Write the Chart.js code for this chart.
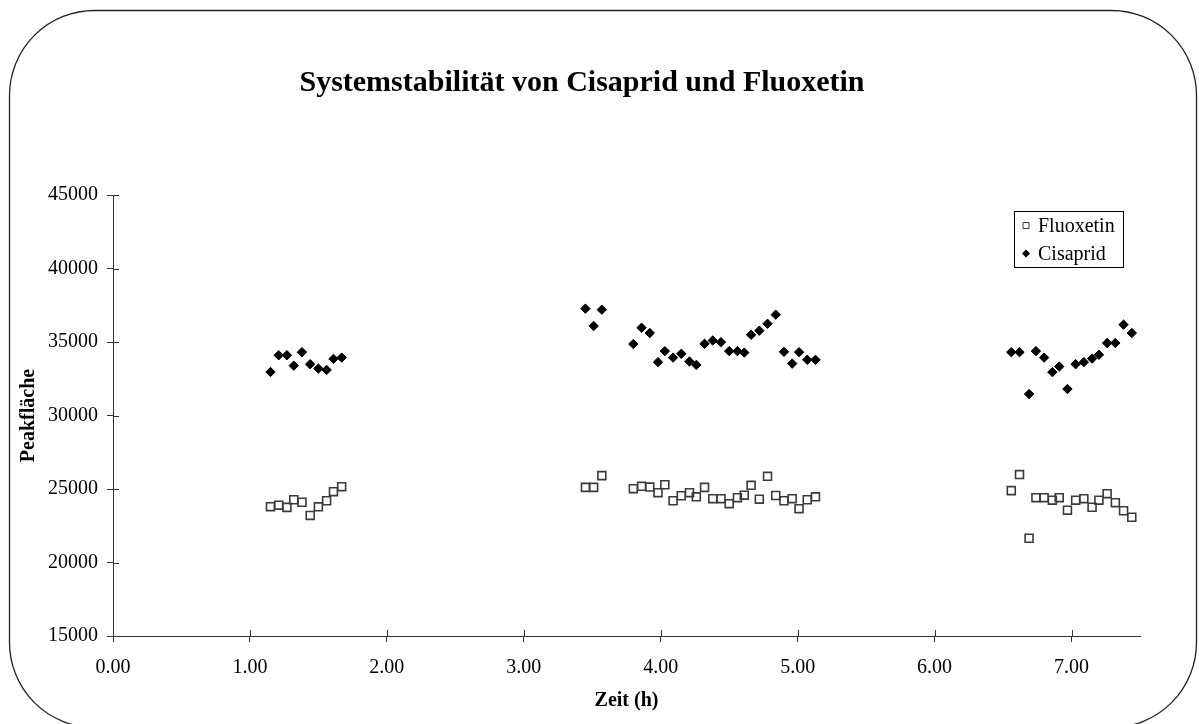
<!DOCTYPE html>
<html lang="de">
<head>
<meta charset="utf-8">
<title>Systemstabilität von Cisaprid und Fluoxetin</title>
<script src="https://cdn.jsdelivr.net/npm/chart.js@4.4.1/dist/chart.umd.min.js"></script>
<style>
  html, body { margin: 0; padding: 0; background: #fff; }
  canvas { display: block; }
</style>
</head>
<body>
<canvas id="chart" width="1199" height="724"></canvas>
<script>
// Injektionszeitpunkte (h)
const zeit = [
  1.15, 1.21, 1.27, 1.32, 1.38, 1.44, 1.50, 1.56, 1.61, 1.67,
  3.45, 3.51, 3.57, 3.80, 3.86, 3.92, 3.98, 4.03, 4.09, 4.15, 4.21, 4.26, 4.32, 4.38,
  4.44, 4.50, 4.56, 4.61, 4.66, 4.72, 4.78, 4.84, 4.90, 4.96, 5.01, 5.07, 5.13,
  6.56, 6.62, 6.69, 6.74, 6.80, 6.86, 6.91, 6.97, 7.03, 7.09, 7.15, 7.20, 7.26, 7.32, 7.38, 7.44
];

// Peakflächen Fluoxetin
const fluoxetin = [
  23800, 23900, 23750, 24270, 24100, 23200, 23790, 24200, 24820, 25160,
  25110, 25110, 25910, 25020, 25180, 25130, 24750, 25290, 24200, 24540, 24750, 24470, 25110, 24340,
  24340, 24000, 24410, 24580, 25250, 24310, 25860, 24560, 24200, 24340, 23660, 24270, 24470,
  24890, 25980, 21650, 24410, 24410, 24240, 24410, 23560, 24240, 24340, 23760, 24240, 24680, 24070, 23520, 23080
];

// Peakflächen Cisaprid
const cisaprid = [
  32960, 34100, 34100, 33390, 34310, 33490, 33190, 33100, 33850, 33940,
  37270, 36090, 37200, 34860, 35970, 35610, 33630, 34380, 33940, 34200, 33670, 33440, 34880, 35100,
  34990, 34380, 34380, 34280, 35490, 35770, 36240, 36860, 34330, 33530, 34310, 33790, 33790,
  34310, 34310, 31460, 34380, 33940, 32950, 33330, 31800, 33490, 33630, 33870, 34130, 34930, 34930, 36180, 35610
];

const serieNamen = ['Fluoxetin', 'Cisaprid'];
const titelText = 'Systemstabilität von Cisaprid und Fluoxetin';
const xTitel = 'Zeit (h)';
const yTitel = 'Peakfläche';

const SERIF = '"Liberation Serif", "Times New Roman", serif';

const punkte = (werte) => zeit.map((t, i) => ({ x: t, y: werte[i] }));

// Rahmen mit runden Ecken, Titel und Legende
const dekoration = {
  id: 'dekoration',
  beforeDraw(chart) {
    const ctx = chart.ctx;
    ctx.save();
    ctx.fillStyle = '#fff';
    ctx.fillRect(0, 0, chart.width, chart.height);
    ctx.beginPath();
    ctx.roundRect(9.5, 10.5, 1187, 717, 85);
    ctx.strokeStyle = '#222';
    ctx.lineWidth = 1.3;
    ctx.stroke();
    ctx.restore();
  },
  afterDraw(chart) {
    const ctx = chart.ctx;
    const { x, y } = chart.scales;
    ctx.save();

    // Achsenstriche auch nach innen
    ctx.strokeStyle = '#333';
    ctx.lineWidth = 1;
    ctx.beginPath();
    x.ticks.forEach(t => {
      const px = Math.round(x.getPixelForValue(t.value)) + 0.5;
      ctx.moveTo(px, y.bottom - 6);
      ctx.lineTo(px, y.bottom);
    });
    y.ticks.forEach(t => {
      const py = Math.round(y.getPixelForValue(t.value)) + 0.5;
      ctx.moveTo(x.left, py);
      ctx.lineTo(x.left + 6, py);
    });
    ctx.stroke();

    // Titel
    ctx.fillStyle = '#000';
    ctx.font = 'bold 30px ' + SERIF;
    ctx.textAlign = 'center';
    ctx.textBaseline = 'middle';
    ctx.fillText(titelText, 582, 83);

    // Legende
    const lx = 1014.5, ly = 211.5, lw = 109, lh = 56;
    ctx.fillStyle = '#fff';
    ctx.fillRect(lx, ly, lw, lh);
    ctx.strokeStyle = '#000';
    ctx.lineWidth = 1;
    ctx.strokeRect(lx, ly, lw, lh);
    ctx.font = '20px ' + SERIF;
    ctx.textAlign = 'left';
    ctx.textBaseline = 'middle';
    chart.data.datasets.forEach((ds, i) => {
      const cy = 225.5 + i * 28;
      const cx = 1026;
      ctx.beginPath();
      if (ds.pointStyle === 'rect') {
        ctx.rect(cx - 3, cy - 3, 6, 6);
        ctx.fillStyle = '#fff';
        ctx.fill();
        ctx.strokeStyle = ds.borderColor;
        ctx.lineWidth = 1;
        ctx.stroke();
      } else {
        ctx.moveTo(cx - 4, cy);
        ctx.lineTo(cx, cy - 4);
        ctx.lineTo(cx + 4, cy);
        ctx.lineTo(cx, cy + 4);
        ctx.closePath();
        ctx.fillStyle = ds.backgroundColor;
        ctx.fill();
      }
      ctx.fillStyle = '#000';
      ctx.fillText(ds.label, 1038, cy + 1);
    });
    ctx.restore();
  }
};

new Chart(document.getElementById('chart'), {
  type: 'scatter',
  data: {
    datasets: [
      {
        label: serieNamen[0],
        data: punkte(fluoxetin),
        pointStyle: 'rect',
        pointRadius: 5.6,
        pointHoverRadius: 5.6,
        borderColor: '#3a3a3a',
        backgroundColor: 'rgba(255,255,255,0)',
        borderWidth: 1.6
      },
      {
        label: serieNamen[1],
        data: punkte(cisaprid),
        pointStyle: 'rectRot',
        pointRadius: 4.7,
        pointHoverRadius: 4.7,
        borderColor: '#000',
        backgroundColor: '#000',
        borderWidth: 1
      }
    ]
  },
  options: {
    responsive: false,
    animation: false,
    devicePixelRatio: 1,
    layout: { padding: { left: 0, right: 59, top: 195, bottom: 0 } },
    plugins: {
      legend: { display: false },
      title: { display: false },
      tooltip: { enabled: false }
    },
    scales: {
      x: {
        type: 'linear',
        position: 'bottom',
        min: 0,
        max: 7.5,
        afterFit(s) { s.height = 88; },
        ticks: {
          stepSize: 1,
          includeBounds: false,
          autoSkip: false,
          maxRotation: 0,
          padding: 14,
          color: '#000',
          font: { family: SERIF, size: 20 },
          callback: v => Number(v).toFixed(2)
        },
        grid: { drawOnChartArea: false, drawTicks: true, tickLength: 6, color: '#333', lineWidth: 1 },
        border: { display: true, color: '#333', width: 1 },
        title: {
          display: true,
          text: xTitel,
          color: '#000',
          font: { family: SERIF, size: 20, weight: 'bold' },
          padding: { top: 0, bottom: 11 }
        }
      },
      y: {
        type: 'linear',
        min: 15000,
        max: 45000,
        afterFit(s) { s.width = 113; },
        ticks: {
          stepSize: 5000,
          padding: 9,
          color: '#000',
          font: { family: SERIF, size: 20 },
          callback: v => String(v)
        },
        grid: { drawOnChartArea: false, drawTicks: true, tickLength: 6, color: '#333', lineWidth: 1 },
        border: { display: true, color: '#333', width: 1 },
        title: {
          display: true,
          text: yTitel,
          color: '#000',
          font: { family: SERIF, size: 20, weight: 'bold' },
          padding: { top: 17, bottom: 0 }
        }
      }
    }
  },
  plugins: [dekoration]
});
</script>
</body>
</html>
